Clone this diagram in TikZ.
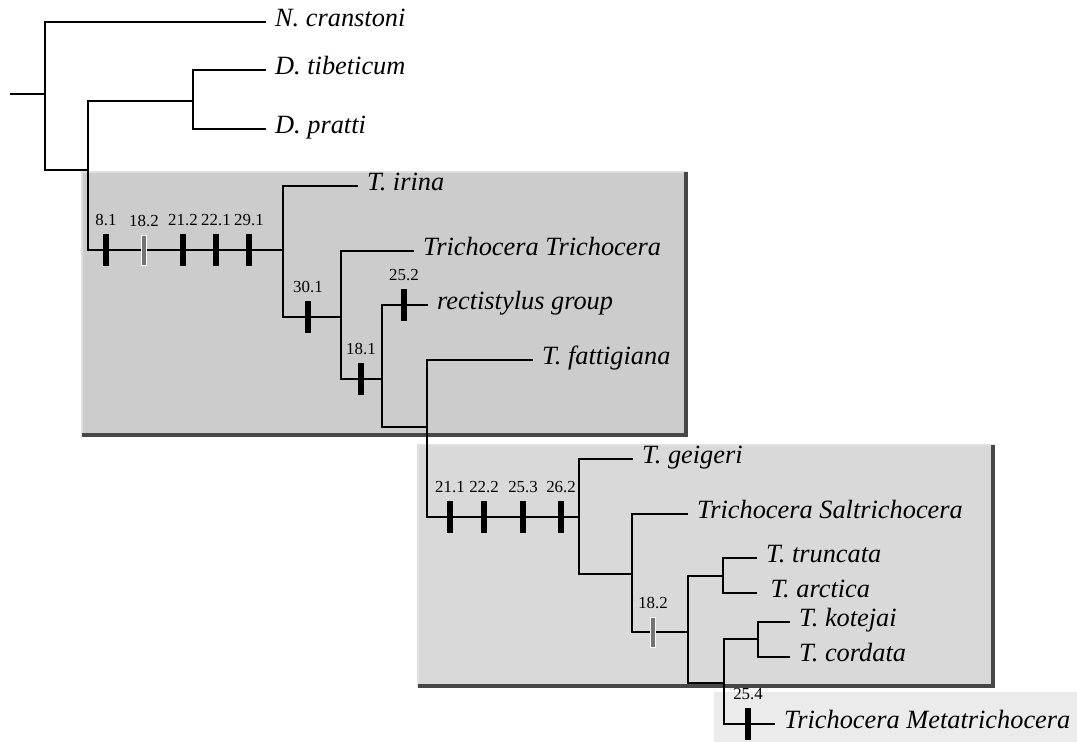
\documentclass[tikz,border=0pt]{standalone}
\usepackage{fontspec}
\setmainfont{Liberation Serif}
\usetikzlibrary{positioning}

\tikzset{
  branch/.style={line width=0.85pt, black},
  taxon/.style={anchor=west, inner xsep=5pt, inner ysep=0pt, text height=1ex,
    text depth=0pt, font=\fontsize{15}{17}\selectfont\itshape},
  apo/.style={rectangle, fill=black, inner sep=0pt, minimum width=3pt,
    minimum height=18pt},
  homo/.style={rectangle, fill=black!55, draw=white, line width=0.4pt, inner sep=0pt,
    minimum width=2.6pt, minimum height=17pt},
  charlbl/.style={font=\fontsize{9.6}{10}\selectfont, inner sep=1pt},
  clade/.style={draw=black!12, line width=0.6pt},
  shade/.style={line width=1.8pt, black!72},
  label distance=3.5pt,
}

\begin{document}
\begin{tikzpicture}[x=0.02cm, y=-0.02cm]
    \useasboundingbox (0,0) rectangle (1077,742);
    % --- clade boxes ---
    \fill[black!8] (714,692) rectangle (1077,742);
    \filldraw[clade, fill=black!15] (418,445) rectangle (993,686);
    \draw[shade] (993,445) -- (993,686) -- (418,686);
    \filldraw[clade, fill=black!20] (82,172) rectangle (686,435);
    \draw[shade] (686,172) -- (686,435) -- (82,435);
    % --- internal nodes ---
    \coordinate (root) at (10,94);
    \coordinate (n1) at (45,94);
    \coordinate (n2) at (88,170);
    \coordinate (n3) at (193,101);
    \coordinate (n4) at (283,250);
    \coordinate (n5) at (341,317);
    \coordinate (n6) at (382,379);
    \coordinate (n7) at (427,427);
    \coordinate (n8) at (579,517);
    \coordinate (n9) at (632,574);
    \coordinate (n10) at (688,632);
    \coordinate (n11) at (723,576);
    \coordinate (n12) at (724,683);
    \coordinate (n13) at (758,639);
    % --- taxa ---
    \node[taxon] (ncr) at (266,22) {N. cranstoni};
    \node[taxon] (dti) at (266,70) {D. tibeticum};
    \node[taxon] (dpr) at (266,129) {D. pratti};
    \node[taxon] (tir) at (358,186) {T. irina};
    \node[taxon] (ttr) at (414,251) {Trichocera Trichocera};
    \node[taxon] (rec) at (428,305) {rectistylus group};
    \node[taxon] (tfa) at (533,360) {T. fattigiana};
    \node[taxon] (tge) at (633,459) {T. geigeri};
    \node[taxon] (tsa) at (688,514) {Trichocera Saltrichocera};
    \node[taxon] (ttc) at (757,558) {T. truncata};
    \node[taxon] (tar) at (757,593) {\,T. arctica};
    \node[taxon] (tko) at (790,622) {T. kotejai};
    \node[taxon] (tco) at (790,657) {T. cordata};
    \node[taxon] (tme) at (775,724) {Trichocera Metatrichocera};
    % --- branches ---
    \draw[branch] (root) -- (n1);
    \draw[branch] (ncr.west) -| (n1) |- (n2);
    \draw[branch] (n3) |- (dti.west);
    \draw[branch] (n3) |- (dpr.west);
    \draw[branch] (n3) -| (n2) |- (n4);
    \draw[branch] (tir.west) -| (n4) |- (n5);
    \draw[branch] (ttr.west) -| (n5) |- (n6);
    \draw[branch] (rec.west) -| (n6) |- (n7);
    \draw[branch] (tfa.west) -| (n7) |- (n8);
    \draw[branch] (tge.west) -| (n8) |- (n9);
    \draw[branch] (tsa.west) -| (n9) |- (n10);
    \draw[branch] (n11) -| (n10) |- (n12);
    \draw[branch] (ttc.west) -| (n11) |- (tar.west);
    \draw[branch] (n13) -| (n12) |- (tme.west);
    \draw[branch] (tko.west) -| (n13) |- (tco.west);
    % --- character states ---
    \node[apo, label={[charlbl]above:8.1}] (c81) at (106,250) {};
    \node[homo, label={[charlbl]above:18.2}] (c182a) at (144,250) {};
    \node[apo, label={[charlbl]above:21.2}] (c212) at (183,250) {};
    \node[apo, label={[charlbl]above:22.1}] (c221) at (216,250) {};
    \node[apo, label={[charlbl]above:29.1}] (c291) at (249,250) {};
    \node[apo, label={[charlbl]above:30.1}] (c301) at (308,317) {};
    \node[apo, label={[charlbl]above:18.1}] (c181) at (361,379) {};
    \node[apo, label={[charlbl]above:25.2}] (c252) at (404,305) {};
    \node[apo, label={[charlbl]above:21.1}] (c211) at (450,517) {};
    \node[apo, label={[charlbl]above:22.2}] (c222) at (484,517) {};
    \node[apo, label={[charlbl]above:25.3}] (c253) at (523,517) {};
    \node[apo, label={[charlbl]above:26.2}] (c262) at (561,517) {};
    \node[homo, label={[charlbl]above:18.2}] (c182b) at (653,632) {};
    \node[apo, minimum width=3.4pt, label={[charlbl]above:25.4}] (c254) at (748,724) {};
\end{tikzpicture}
\end{document}
